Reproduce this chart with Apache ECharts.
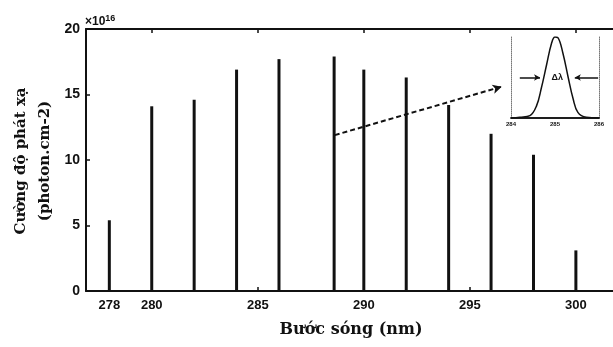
<!DOCTYPE html>
<html>
<head>
<meta charset="utf-8">
<script src="https://cdn.jsdelivr.net/npm/echarts@6/dist/echarts.min.js"></script>
<style>
  html, body { margin: 0; padding: 0; background: #fff; }
  #chart { width: 613px; height: 347px; }
</style>
</head>
<body>
<div id="chart"></div>
<script>
// main spectrum: wavelength (nm) and intensity (x10^16)
var wavelengths = [278, 280, 282, 284, 286, 288.6, 290, 292, 294, 296, 298, 300];
var intensity = [5.4, 14.1, 14.6, 16.9, 17.7, 17.9, 16.9, 16.3, 14.2, 12.0, 10.4, 3.1];
var xTickLabels = [278, 280, 285, 290, 295, 300];
var xTicks = [280, 285, 290, 295, 300];

// inset line profile
var insetX = [284.0, 284.2, 284.43, 284.58, 284.69, 284.81, 284.92, 285.0, 285.07, 285.18, 285.3, 285.41, 285.52, 285.71, 286.0];
var insetY = [0, 0.01, 0.03, 0.15, 0.37, 0.66, 0.92, 1.0, 0.99, 0.8, 0.5, 0.24, 0.07, 0.01, 0];
var insetTicks = [284, 285, 286];

// dashed pointer from main chart to inset
var pointerFrom = [288.63, 11.9];
var pointerTo = [296.5, 15.6];
// half-width arrows in the inset
var leftArrow = [[284.2, 0.5], [284.66, 0.5]];
var rightArrow = [[285.98, 0.5], [285.45, 0.5]];

var chart = echarts.init(document.getElementById('chart'));

var barData = wavelengths.map(function (w, i) { return [w, intensity[i]]; });
var insetData = insetX.map(function (x, i) { return [x, insetY[i]]; });

var ink = '#111';

var option = {
  backgroundColor: '#fff',
  animation: false,
  grid: [
    { left: 86, top: 29, right: 0, bottom: 56 },
    { left: 511, top: 37, width: 88, height: 81 }
  ],
  xAxis: [
    {
      type: 'value', gridIndex: 0, min: 276.9, max: 301.75,
      axisLine: { lineStyle: { color: ink, width: 2 } },
      axisTick: { inside: true, length: 4, customValues: xTicks, lineStyle: { color: ink, width: 1.5 } },
      axisLabel: {
        customValues: xTickLabels, color: ink, fontWeight: 'bold',
        fontFamily: 'Liberation Sans Narrow, Liberation Sans', fontSize: 13, margin: 8
      },
      splitLine: { show: false }
    },
    {
      type: 'value', gridIndex: 0, position: 'top', min: 276.9, max: 301.75,
      axisLine: { lineStyle: { color: ink, width: 2 } },
      axisTick: { inside: true, length: 4, customValues: xTicks, lineStyle: { color: ink, width: 1.5 } },
      axisLabel: { show: false },
      splitLine: { show: false }
    },
    {
      type: 'value', gridIndex: 1, min: 284, max: 286,
      axisLine: { lineStyle: { color: ink, width: 1.5 } },
      axisTick: { show: false },
      axisLabel: {
        customValues: insetTicks, color: ink, fontWeight: 'bold', fontSize: 6, margin: 3,
        fontFamily: 'Liberation Sans'
      },
      splitLine: { show: false }
    },
    {
      type: 'value', gridIndex: 1, position: 'top', min: 284, max: 286,
      axisLine: { lineStyle: { color: ink, width: 1.5 } },
      axisTick: { show: false }, axisLabel: { show: false }, splitLine: { show: false }
    }
  ],
  yAxis: [
    {
      type: 'value', gridIndex: 0, min: 0, max: 20, interval: 5,
      axisLine: { show: true, lineStyle: { color: ink, width: 2 } },
      axisTick: { show: true, inside: true, length: 4, lineStyle: { color: ink, width: 1.5 } },
      axisLabel: {
        color: ink, fontWeight: 'bold', fontSize: 14, margin: 6,
        fontFamily: 'Liberation Sans'
      },
      splitLine: { show: false }
    },
    {
      type: 'value', gridIndex: 1, min: 0, max: 1,
      axisLine: { show: true, lineStyle: { color: '#777', width: 1, type: 'dotted' } },
      axisTick: { show: false }, axisLabel: { show: false }, splitLine: { show: false }
    },
    {
      type: 'value', gridIndex: 1, position: 'right', min: 0, max: 1,
      axisLine: { show: true, lineStyle: { color: '#777', width: 1, type: 'dotted' } },
      axisTick: { show: false }, axisLabel: { show: false }, splitLine: { show: false }
    }
  ],
  series: [
    {
      type: 'bar', xAxisIndex: 0, yAxisIndex: 0, data: barData, barWidth: 3,
      itemStyle: { color: ink },
      markLine: {
        silent: true, symbol: ['none', 'arrow'], symbolSize: [7, 9],
        label: { show: false },
        lineStyle: { color: ink, width: 2, type: [5, 3] },
        data: [[{ coord: pointerFrom }, { coord: pointerTo }]]
      }
    },
    {
      type: 'line', xAxisIndex: 2, yAxisIndex: 1, data: insetData, smooth: 0.4,
      symbol: 'none', lineStyle: { color: ink, width: 1.5 },
      markLine: {
        silent: true, symbol: ['none', 'arrow'], symbolSize: [5, 6],
        label: { show: false },
        lineStyle: { color: ink, width: 1.5, type: 'solid' },
        data: [
          [{ coord: leftArrow[0] }, { coord: leftArrow[1] }],
          [{ coord: rightArrow[0] }, { coord: rightArrow[1] }]
        ]
      },
      markPoint: {
        symbol: 'circle', symbolSize: 1, itemStyle: { color: 'transparent' },
        label: { show: true, formatter: 'Δλ', color: ink, fontWeight: 'bold', fontSize: 9, position: 'inside' },
        data: [{ coord: [285.05, 0.5] }]
      }
    }
  ],
  graphic: [
    {
      type: 'text', x: 33, y: 161, rotation: Math.PI / 2,
      style: {
        text: 'Cường độ phát xạ\n(photon.cm-2)',
        align: 'center', verticalAlign: 'middle', lineHeight: 24,
        font: 'bold 15px "DejaVu Serif"', fill: ink
      }
    },
    {
      type: 'text', x: 351, y: 330,
      style: {
        text: 'Bước sóng (nm)', align: 'center', verticalAlign: 'middle',
        font: 'bold 16px "DejaVu Serif"', fill: ink
      }
    },
    {
      type: 'text', x: 85, y: 22,
      style: {
        text: '×10{s|16}', verticalAlign: 'middle',
        font: 'bold 12px "Liberation Sans"', fill: ink,
        rich: { s: { fontSize: 9, fontWeight: 'bold', verticalAlign: 'top', padding: [0, 0, 6, 0] } }
      }
    }
  ]
};

chart.setOption(option);
</script>
</body>
</html>
